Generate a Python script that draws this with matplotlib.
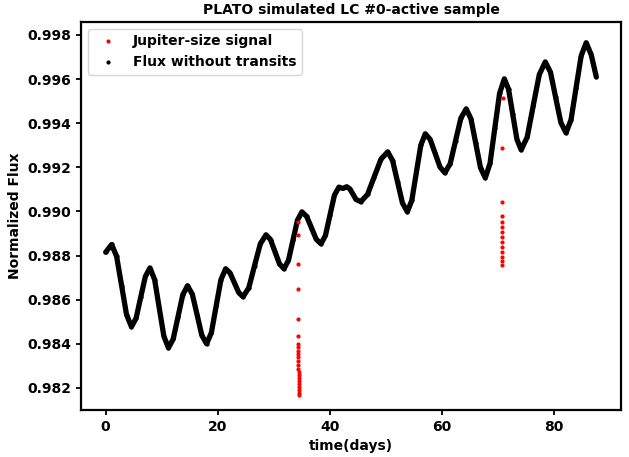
import matplotlib
matplotlib.use("Agg")
import matplotlib.pyplot as plt

# light curve without transits (time in days, normalized flux)
time_days = [0.0, 1.07, 1.95, 2.84, 3.72, 4.6, 5.43, 6.25, 7.08, 7.9, 8.73, 9.55, 10.38,
             11.2, 12.05, 12.9, 13.75, 14.6, 15.45, 16.3, 17.15, 18.0, 18.85, 19.7, 20.55,
             21.4, 22.18, 22.95, 23.73, 24.5, 25.53, 26.55, 27.58, 28.6, 29.4, 30.2, 31.0,
             31.8, 32.6, 33.4, 34.2, 35.0, 35.85, 36.7, 37.55, 38.4, 39.2, 40.0, 40.8,
             41.6, 42.3, 43.0, 43.55, 44.1, 44.65, 45.5, 46.7, 47.9, 49.1, 50.3, 51.18,
             52.05, 52.93, 53.8, 54.6, 55.4, 56.2, 57.0, 57.88, 58.75, 59.63, 60.5, 61.45,
             62.4, 63.35, 64.3, 65.15, 66.0, 66.85, 67.7, 68.55, 69.4, 70.25, 71.1, 71.85,
             72.6, 73.35, 74.1, 75.18, 76.25, 77.33, 78.4, 79.33, 80.25, 81.18, 82.1, 83.0,
             83.9, 84.8, 85.7, 86.6, 87.5]
flux = [0.98815, 0.98850, 0.98796, 0.98664, 0.98532, 0.98477, 0.98516, 0.98611, 0.98705,
        0.98744, 0.98691, 0.98563, 0.98434, 0.98381, 0.98422, 0.98522, 0.98622, 0.98663,
        0.98625, 0.98532, 0.98438, 0.98400, 0.98450, 0.98570, 0.98690, 0.98740, 0.98721,
        0.98677, 0.98632, 0.98613, 0.98654, 0.98754, 0.98853, 0.98894, 0.98872, 0.98817,
        0.98762, 0.98740, 0.98778, 0.98869, 0.98960, 0.98998, 0.98977, 0.98926, 0.98874,
        0.98853, 0.98891, 0.98983, 0.99074, 0.99110, 0.99104, 0.99112, 0.99102, 0.99078,
        0.99054, 0.99044, 0.99077, 0.99157, 0.99237, 0.99270, 0.99230, 0.99134, 0.99038,
        0.98998, 0.99050, 0.99175, 0.99300, 0.99352, 0.99326, 0.99264, 0.99201, 0.99175,
        0.99217, 0.99320, 0.99423, 0.99465, 0.99419, 0.99309, 0.99198, 0.99152, 0.99218,
        0.99377, 0.99535, 0.99601, 0.99554, 0.99440, 0.99326, 0.99279, 0.99337, 0.99479,
        0.99620, 0.99678, 0.99631, 0.99517, 0.99403, 0.99356, 0.99416, 0.99561, 0.99705,
        0.99765, 0.99710, 0.99610]

# transit points (Jupiter-size signal)
transit_time = [34.30, 34.32, 34.33, 34.34, 34.35, 34.36, 34.37, 34.37, 34.38, 34.38,
                34.38, 34.39, 34.39, 34.39, 34.40, 34.40, 34.40, 34.41, 34.41, 34.41,
                34.42, 34.42, 34.42,
                70.80, 70.76, 70.72, 70.70, 70.70, 70.69, 70.69, 70.68, 70.68, 70.68,
                70.67, 70.67, 70.67, 70.67]
transit_flux = [0.98953, 0.98894, 0.98762, 0.98649, 0.98513, 0.98436, 0.98400, 0.98386,
                0.98368, 0.98354, 0.98341, 0.98323, 0.98305, 0.98286, 0.98273, 0.98259,
                0.98245, 0.98232, 0.98218, 0.98205, 0.98191, 0.98177, 0.98168,
                0.99515, 0.99288, 0.99044, 0.98980, 0.98953, 0.98930, 0.98907, 0.98885,
                0.98862, 0.98839, 0.98816, 0.98794, 0.98776, 0.98758]

fig = plt.figure(figsize=(6.29, 4.57), dpi=100)
ax = fig.add_axes([0.129, 0.103, 0.858, 0.849])

# thick line stands in for the dense cloud of points
ax.plot(time_days, flux, color="black", lw=3.8, solid_joinstyle="round",
        solid_capstyle="round", zorder=2)
ax.plot(time_days, flux, "o", color="black", ms=2.0, ls="none",
        label="Flux without transits", zorder=1)
ax.plot(transit_time, transit_flux, "o", color="red", ms=2.0, ls="none",
        label="Jupiter-size signal", zorder=3)

ax.set_xlim(-4.375, 91.875)
ax.set_ylim(0.98100, 0.99859)
ax.set_yticks([0.982, 0.984, 0.986, 0.988, 0.990, 0.992, 0.994, 0.996, 0.998])
ax.set_xticks([0, 20, 40, 60, 80])
for lab in ax.get_xticklabels() + ax.get_yticklabels():
    lab.set_fontweight("bold")
ax.tick_params(labelsize=10, width=1.3)
for s in ax.spines.values():
    s.set_linewidth(1.6)

ax.set_title("PLATO simulated LC #0-active sample", fontsize=10, fontweight="bold")
ax.set_xlabel("time(days)", fontsize=10, fontweight="bold")
ax.set_ylabel("Normalized Flux", fontsize=10, fontweight="bold")

h, l = ax.get_legend_handles_labels()
ax.legend(h[::-1], l[::-1], loc="upper left", prop={"weight": "bold", "size": 10},
          markerscale=1.0)

fig.savefig("out.png", dpi=100)
